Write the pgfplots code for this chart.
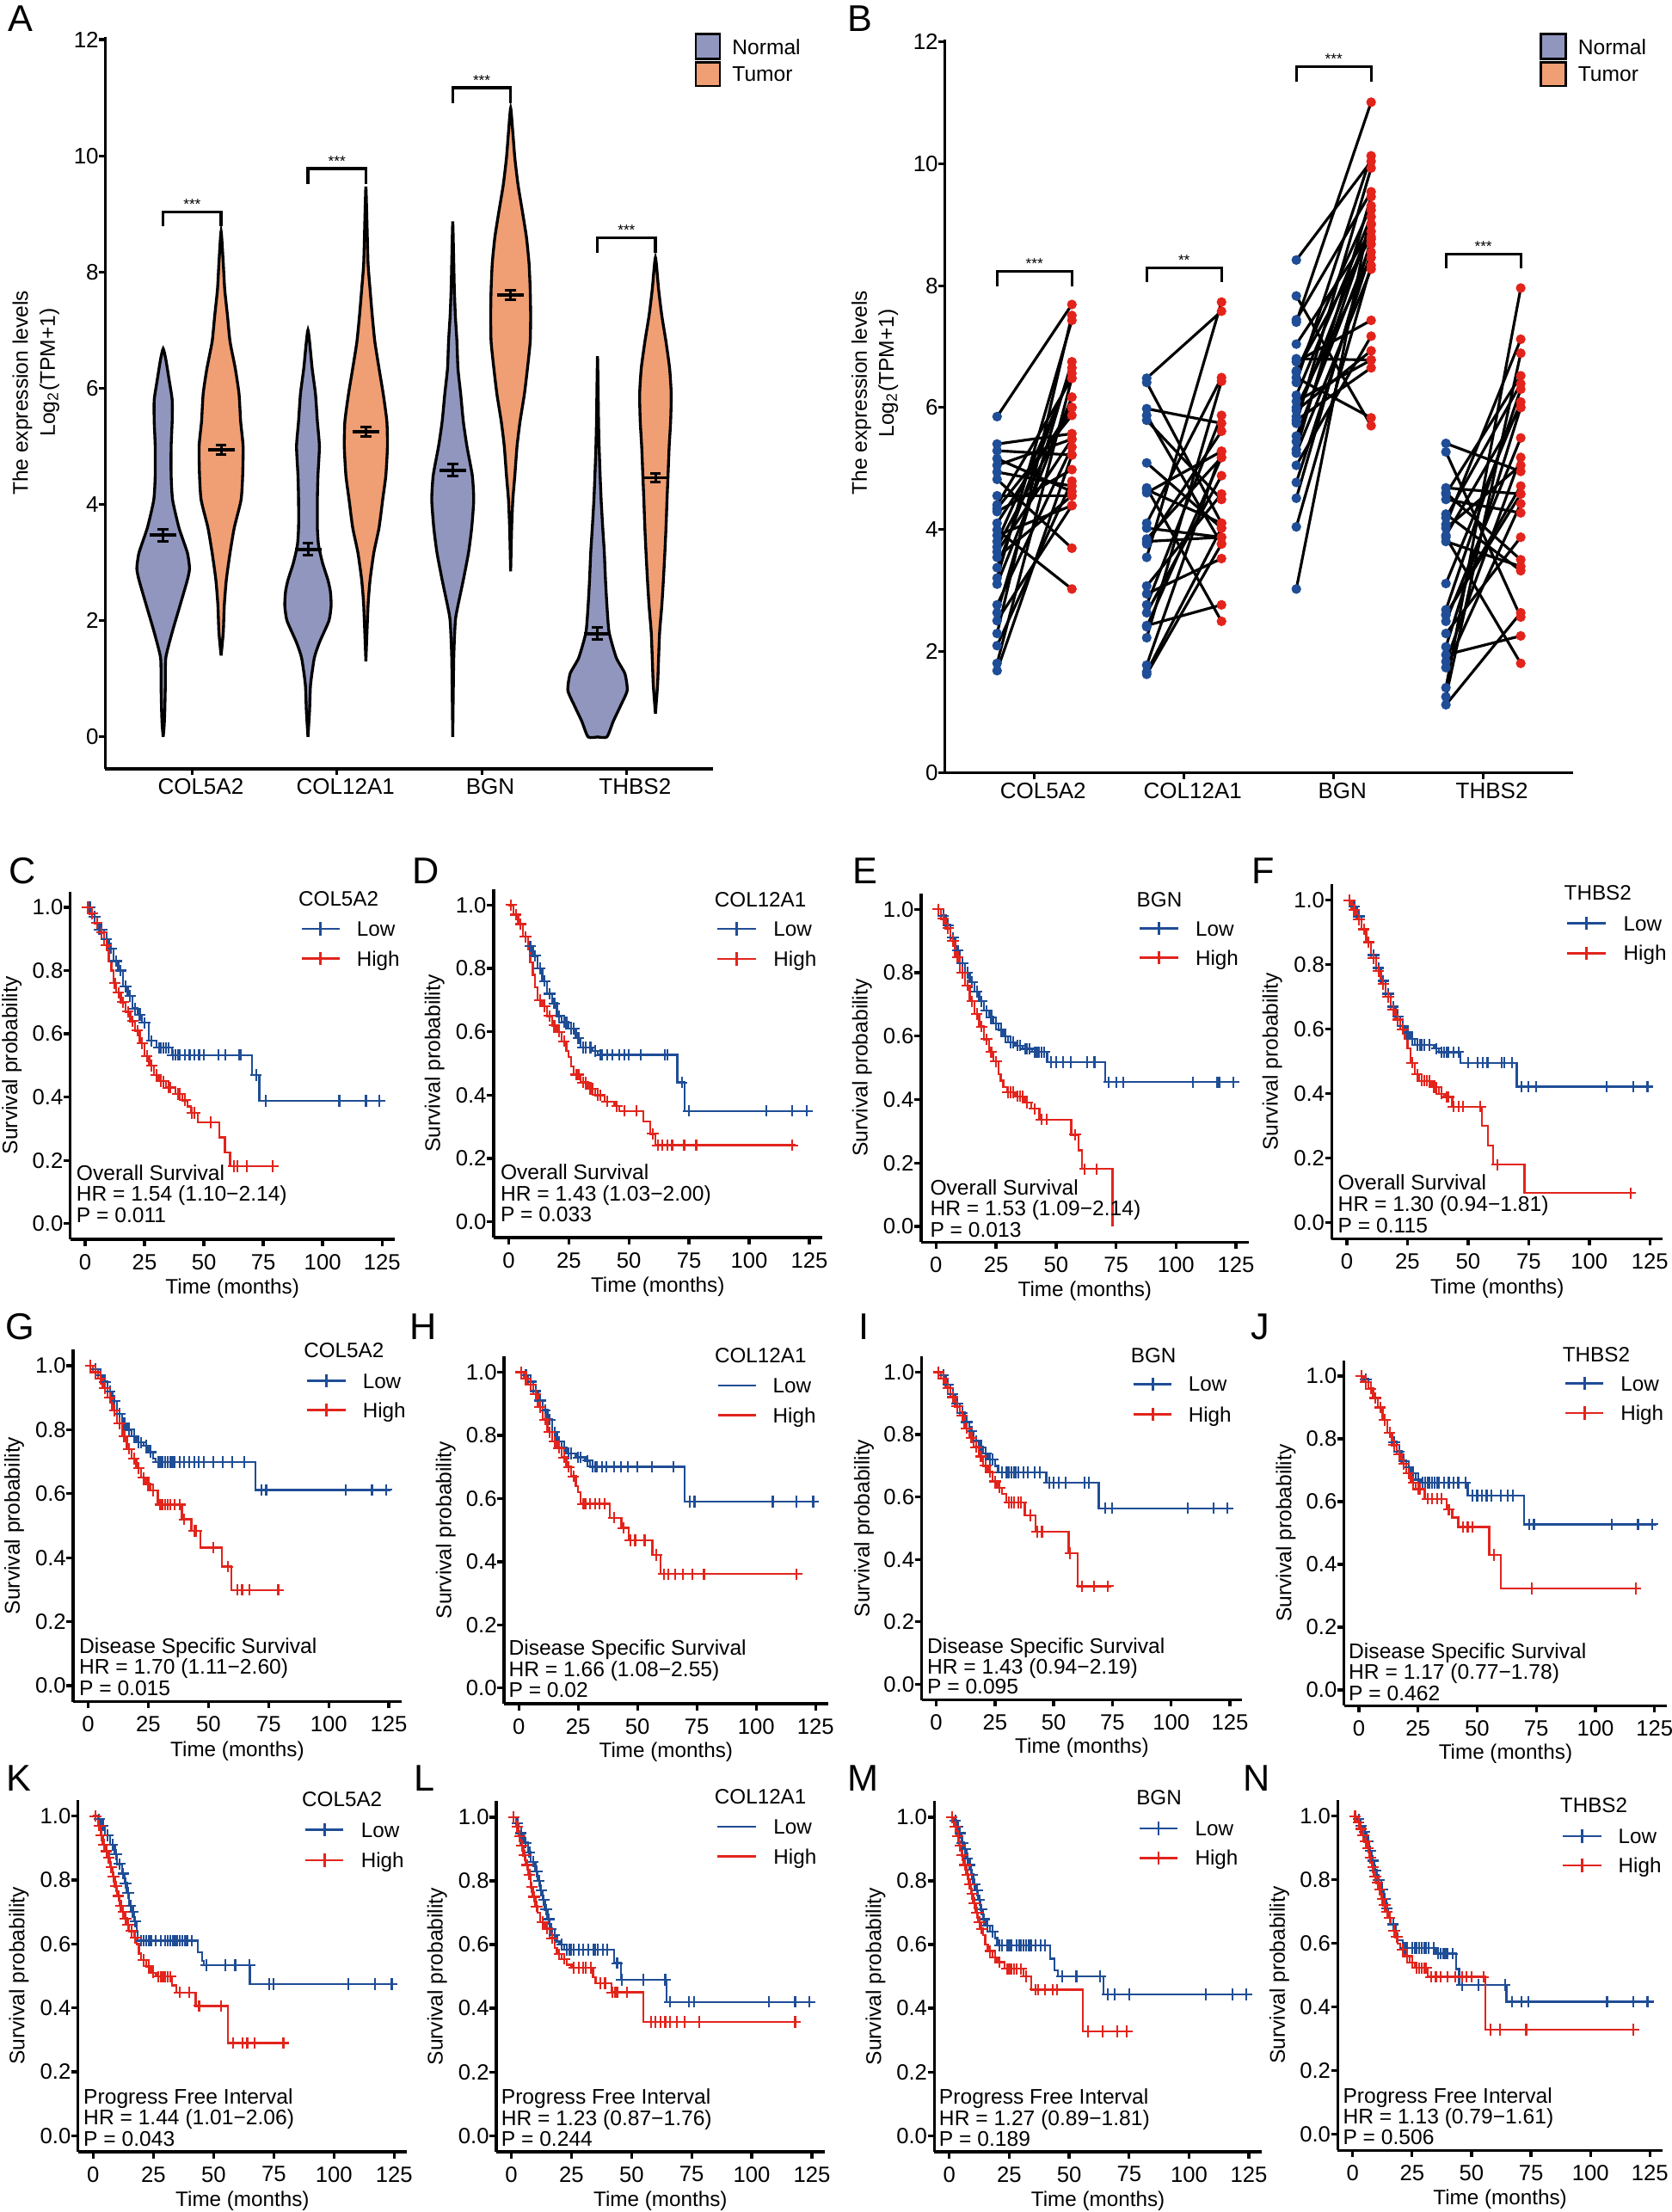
\documentclass[border=0pt]{standalone}
\usepackage{fontspec}
\setmainfont{Liberation Sans}
\usepackage{pgfplots}
\pgfplotsset{compat=1.18}
\usepackage{pgfplotstable}

\definecolor{vnorm}{RGB}{145,150,190}
\definecolor{vtum}{RGB}{240,158,116}
\definecolor{kmblue}{RGB}{31,77,150}
\definecolor{kmred}{RGB}{226,36,28}

\newcommand{\fA}{\fontsize{7.4}{8.5}\selectfont}
\newcommand{\fAl}{\fontsize{7.0}{8.5}\selectfont}
\newcommand{\kmtick}{\fontsize{7.3}{8.5}\selectfont}
\newcommand{\kmlab}{\fontsize{6.9}{8}\selectfont}
\newcommand{\kmann}{\fontsize{7.0}{8}\selectfont}
\newcommand{\fstar}{\fontsize{4.9}{5.5}\selectfont}
\newcommand{\fletter}{\fontsize{12.3}{14}\selectfont}

\tikzset{
 kmtxt/.style={font=\kmlab, inner sep=0pt, text height=4.9pt, text depth=0pt, anchor=west},
 kmnt/.style={font=\kmann, inner sep=0pt, anchor=base west},
 plet/.style={font=\fletter, inner sep=0pt, anchor=base west},
 star/.style={font=\fstar, inner sep=0pt, anchor=base},
}

\pgfplotsset{
 km/.style={scale only axis, anchor=south west,
  xmin=-6.25, xmax=130.25, ymin=-0.05, ymax=1.05,
  axis x line*=bottom, axis y line*=left, axis line style={-, line width=0.95pt},
  tick align=outside, major tick length=0.077cm, major tick style={black, line width=0.95pt},
  xtick={0,25,50,75,100,125}, ytick={0,0.2,0.4,0.6,0.8,1},
  yticklabels={0.0,0.2,0.4,0.6,0.8,1.0},
  tick label style={font=\kmtick},
  yticklabel style={anchor=east, inner sep=0pt, xshift=0cm},
  xticklabel style={anchor=north, inner sep=0pt, yshift=-0.09cm},
  xlabel={Time (months)}, ylabel={Survival probability},
  label style={font=\kmlab},
  xlabel style={at={(axis description cs:0.5,-0.14)}, anchor=center},
  ylabel style={at={(axis description cs:-0.18,0.5)}, anchor=center, font=\fontsize{7.0}{8}\selectfont},
  clip=false, /pgf/number format/assume math mode=true},
 kmlo/.style={kmblue, line width=0.68pt, const plot, forget plot},
 kmhi/.style={kmred, line width=0.68pt, const plot, forget plot},
 kmlom/.style={kmblue, only marks, mark=+, mark size=1.9pt, line width=0.6pt, forget plot},
 kmhim/.style={kmred, only marks, mark=+, mark size=1.9pt, line width=0.6pt, forget plot},
 vn/.style={fill=vnorm, draw=black, line width=0.95pt, smooth, tension=0.35, forget plot},
 vt/.style={fill=vtum, draw=black, line width=0.95pt, smooth, tension=0.35, forget plot},
 brk/.style={black, line width=0.9pt, forget plot},
 exax/.style={scale only axis, anchor=south west, xmin=0.4, xmax=4.6,
  axis x line*=bottom, axis y line*=left, axis line style={-, line width=0.87pt},
  tick align=outside, major tick length=0.07cm, major tick style={black, line width=0.87pt},
  xtick={1,2,3,4}, xticklabels={COL5A2,COL12A1,BGN,THBS2},
  ytick={0,2,4,6,8,10,12}, tick label style={font=\fA},
  yticklabel style={anchor=east, inner sep=0pt, xshift=0cm},
  xticklabel style={anchor=north, inner sep=0pt, yshift=-0.04cm, xshift=0.1cm},
  clip=false, /pgf/number format/assume math mode=true},
}

\newcommand{\kmleg}[6]{%
 \pgfmathsetmacro{\kxe}{#2+16}%
 \pgfmathsetmacro{\kxm}{#2+8}%
 \pgfmathsetmacro{\kxt}{#2+23}%
 \pgfmathsetmacro{\kxh}{#2-1.5}%
 \edef\kmtmp{%
  \noexpand\addplot[kmblue, line width=0.8pt, forget plot] coordinates {(#2,#4) (\kxe,#4)};%
  \noexpand\addplot[kmred, line width=0.8pt, forget plot] coordinates {(#2,#5) (\kxe,#5)};%
  \noexpand\node[kmtxt] at (axis cs:\kxh,#3) {#1};%
  \noexpand\node[kmtxt] at (axis cs:\kxt,#4) {Low};%
  \noexpand\node[kmtxt] at (axis cs:\kxt,#5) {High};%
 }\kmtmp
 \ifnum#6=1
  \edef\kmtmp{%
   \noexpand\addplot[kmblue, only marks, mark=+, mark size=2.2pt, line width=0.8pt, forget plot] coordinates {(\kxm,#4)};%
   \noexpand\addplot[kmred, only marks, mark=+, mark size=2.2pt, line width=0.8pt, forget plot] coordinates {(\kxm,#5)};%
  }\kmtmp
 \fi}

\newcommand{\kmnote}[5]{%
 \pgfmathsetmacro{\kbA}{#2-0.066}%
 \pgfmathsetmacro{\kbB}{#2-0.132}%
 \edef\kmtmp{%
  \noexpand\node[kmnt] at (axis cs:#1,#2) {#3};%
  \noexpand\node[kmnt] at (axis cs:#1,\kbA) {#4};%
  \noexpand\node[kmnt] at (axis cs:#1,\kbB) {#5};%
 }\kmtmp}

\pgfplotstableread{
n t
5.85 7.69
5.40 5.57
5.29 5.22
5.16 4.62
4.94 4.71
4.82 3.69
4.40 6.48
4.34 5.87
4.29 4.98
3.99 3.02
3.80 6.56
3.71 6.00
3.63 5.48
3.54 4.55
3.37 6.65
3.20 7.43
3.10 6.17
2.76 5.35
2.63 6.75
2.50 4.39
2.29 7.51
2.09 4.79
1.80 6.48
1.68 5.22
3.90 4.39
4.10 6.00
5.05 5.48
4.55 4.55
}\pairA
\pgfplotstableread{
n t
6.48 7.58
6.41 4.10
5.98 5.74
5.87 3.76
5.79 4.49
5.09 4.02
4.68 2.49
4.60 5.28
4.10 6.49
4.02 3.87
3.84 5.18
3.76 5.61
3.54 7.73
3.07 4.58
2.94 3.52
2.76 5.87
2.63 4.88
2.42 2.76
2.22 6.43
1.77 5.28
1.66 4.02
1.62 3.76
4.65 4.10
2.40 5.18
3.80 3.87
}\pairB
\pgfplotstableread{
n t
8.42 10.04
7.83 5.70
7.44 9.54
7.40 11.01
7.04 8.89
6.80 6.78
6.58 9.31
6.49 5.83
6.41 10.13
6.20 9.13
6.00 8.46
5.79 6.65
5.74 9.93
5.53 8.68
5.44 9.02
5.31 9.46
5.25 8.27
5.05 7.17
4.77 8.55
4.51 8.76
4.04 8.33
3.02 9.24
5.95 6.93
6.75 7.43
6.10 6.78
5.85 9.00
6.60 8.80
}\pairC
\pgfplotstableread{
n t
5.41 4.95
5.27 2.56
4.68 4.58
4.58 6.52
4.49 4.27
4.25 3.32
4.19 6.39
4.08 7.12
4.02 5.05
3.87 1.80
3.80 3.39
3.11 6.09
2.68 6.30
2.59 4.71
2.49 5.50
2.29 3.87
2.07 6.00
1.94 2.25
1.83 5.18
1.73 4.42
1.40 7.96
1.25 6.89
1.12 2.63
4.60 3.50
2.60 4.58
3.90 6.00
}\pairD

\begin{document}
\begin{tikzpicture}
\path[use as bounding box] (0,0) rectangle (19.44,-25.72);

%%%%%%%%%%%%%%%% Panel A
\begin{axis}[exax, at={(1.224cm,-8.94cm)}, width=7.07cm, height=8.514cm, ymin=-0.55, ymax=12.05]
\addplot[vn] coordinates {(0.8,0) (0.807,0.2) (0.811,0.45) (0.815,0.9) (0.818,1.36) (0.862,1.8) (0.916,2.26) (0.967,2.7) (0.982,2.9) (0.967,3.17) (0.909,3.6) (0.865,4.08) (0.855,4.5) (0.855,5.0) (0.862,5.43) (0.862,5.8) (0.84,6.16) (0.818,6.5) (0.8,6.68) (0.782,6.5) (0.76,6.16) (0.738,5.8) (0.738,5.43) (0.745,5.0) (0.745,4.5) (0.735,4.08) (0.691,3.6) (0.633,3.17) (0.618,2.9) (0.633,2.7) (0.684,2.26) (0.738,1.8) (0.782,1.36) (0.785,0.9) (0.789,0.45) (0.793,0.2) (0.8,0)};
\addplot[vt] coordinates {(1.2,1.4) (1.215,1.8) (1.222,2.26) (1.236,2.7) (1.262,3.17) (1.291,3.6) (1.338,4.08) (1.349,4.5) (1.352,5.0) (1.335,5.43) (1.324,5.9) (1.298,6.34) (1.262,6.8) (1.244,7.25) (1.225,7.7) (1.215,8.15) (1.2,8.7) (1.185,8.15) (1.175,7.7) (1.156,7.25) (1.138,6.8) (1.102,6.34) (1.076,5.9) (1.065,5.43) (1.048,5.0) (1.051,4.5) (1.062,4.08) (1.109,3.6) (1.138,3.17) (1.164,2.7) (1.178,2.26) (1.185,1.8) (1.2,1.4)};
\addplot[vn] coordinates {(1.8,0) (1.811,0.45) (1.818,0.9) (1.844,1.36) (1.88,1.63) (1.945,2.0) (1.96,2.26) (1.955,2.5) (1.938,2.7) (1.9,3.0) (1.873,3.3) (1.865,3.6) (1.865,4.08) (1.869,4.5) (1.879,5.0) (1.865,5.43) (1.852,5.9) (1.829,6.34) (1.8,7.0) (1.771,6.34) (1.748,5.9) (1.735,5.43) (1.721,5.0) (1.731,4.5) (1.735,4.08) (1.735,3.6) (1.727,3.3) (1.7,3.0) (1.662,2.7) (1.645,2.5) (1.64,2.26) (1.655,2.0) (1.72,1.63) (1.756,1.36) (1.782,0.9) (1.789,0.45) (1.8,0)};
\addplot[vt] coordinates {(2.2,1.3) (2.215,2.26) (2.229,2.7) (2.255,3.17) (2.291,3.6) (2.316,4.08) (2.338,4.5) (2.349,5.0) (2.345,5.43) (2.32,5.9) (2.291,6.34) (2.262,6.8) (2.244,7.25) (2.229,7.7) (2.215,8.15) (2.207,8.9) (2.2,9.47) (2.193,8.9) (2.185,8.15) (2.171,7.7) (2.156,7.25) (2.138,6.8) (2.109,6.34) (2.08,5.9) (2.055,5.43) (2.051,5.0) (2.062,4.5) (2.084,4.08) (2.109,3.6) (2.145,3.17) (2.171,2.7) (2.185,2.26) (2.2,1.3)};
\addplot[vn] coordinates {(2.8,0) (2.807,1.36) (2.818,2.0) (2.836,2.26) (2.873,2.7) (2.909,3.17) (2.931,3.6) (2.945,4.08) (2.935,4.5) (2.898,5.0) (2.873,5.43) (2.855,5.9) (2.836,6.34) (2.829,6.8) (2.818,7.25) (2.811,7.7) (2.807,8.15) (2.8,8.87) (2.793,8.15) (2.789,7.7) (2.782,7.25) (2.771,6.8) (2.764,6.34) (2.745,5.9) (2.727,5.43) (2.702,5.0) (2.665,4.5) (2.655,4.08) (2.669,3.6) (2.691,3.17) (2.727,2.7) (2.764,2.26) (2.782,2.0) (2.793,1.36) (2.8,0)};
\addplot[vt] coordinates {(3.2,2.85) (3.207,3.6) (3.215,4.08) (3.229,4.5) (3.244,5.0) (3.265,5.43) (3.295,5.9) (3.316,6.34) (3.335,6.8) (3.338,7.25) (3.335,7.7) (3.327,8.15) (3.309,8.6) (3.28,9.06) (3.251,9.5) (3.229,9.96) (3.215,10.4) (3.2,10.82) (3.185,10.4) (3.171,9.96) (3.149,9.5) (3.12,9.06) (3.091,8.6) (3.073,8.15) (3.065,7.7) (3.062,7.25) (3.065,6.8) (3.084,6.34) (3.105,5.9) (3.135,5.43) (3.156,5.0) (3.171,4.5) (3.185,4.08) (3.193,3.6) (3.2,2.85)};
\addplot[vn] coordinates {(3.8,0) (3.865,0) (3.909,0.27) (3.96,0.54) (4.005,0.8) (3.989,1.09) (3.93,1.36) (3.88,1.8) (3.865,2.26) (3.855,2.7) (3.847,3.17) (3.836,3.6) (3.825,4.08) (3.818,4.5) (3.811,5.0) (3.807,5.43) (3.8,6.55) (3.793,5.43) (3.789,5.0) (3.782,4.5) (3.775,4.08) (3.764,3.6) (3.753,3.17) (3.745,2.7) (3.735,2.26) (3.72,1.8) (3.67,1.36) (3.611,1.09) (3.595,0.8) (3.64,0.54) (3.691,0.27) (3.735,0) (3.8,0)};
\addplot[vt] coordinates {(4.2,0.4) (4.215,0.9) (4.222,1.36) (4.229,1.8) (4.244,2.26) (4.255,2.7) (4.265,3.17) (4.273,3.6) (4.28,4.08) (4.287,4.5) (4.295,5.0) (4.305,5.43) (4.309,5.9) (4.298,6.34) (4.273,6.8) (4.244,7.25) (4.222,7.7) (4.2,8.25) (4.178,7.7) (4.156,7.25) (4.127,6.8) (4.102,6.34) (4.091,5.9) (4.095,5.43) (4.105,5.0) (4.113,4.5) (4.12,4.08) (4.127,3.6) (4.135,3.17) (4.145,2.7) (4.156,2.26) (4.171,1.8) (4.178,1.36) (4.185,0.9) (4.2,0.4)};
% mean +- SE
\addplot[black, only marks, mark=-, mark size=4.4pt, mark options={line width=1.1pt}, forget plot, error bars/.cd, y dir=both, y explicit, error mark=none, error bar style={line width=0.85pt}] coordinates {(0.8,3.47) +- (0,0.10) (1.2,4.94) +- (0,0.08) (1.8,3.23) +- (0,0.10) (2.2,5.25) +- (0,0.08) (2.8,4.59) +- (0,0.10) (3.2,7.61) +- (0,0.08) (3.8,1.78) +- (0,0.10) (4.2,4.46) +- (0,0.08)};
\addplot[black, only marks, mark=-, mark size=1.8pt, mark options={line width=0.85pt}, forget plot] coordinates {(0.8,3.57) (0.8,3.37) (1.2,5.02) (1.2,4.86) (1.8,3.33) (1.8,3.13) (2.2,5.33) (2.2,5.17) (2.8,4.69) (2.8,4.49) (3.2,7.69) (3.2,7.53) (3.8,1.88) (3.8,1.68) (4.2,4.54) (4.2,4.38)};
% brackets
\addplot[brk] coordinates {(0.8,8.79) (0.8,9.03) (1.2,9.03) (1.2,8.79)};
\addplot[brk] coordinates {(1.8,9.51) (1.8,9.78) (2.2,9.78) (2.2,9.51)};
\addplot[brk] coordinates {(2.8,10.91) (2.8,11.17) (3.2,11.17) (3.2,10.91)};
\addplot[brk] coordinates {(3.8,8.33) (3.8,8.59) (4.2,8.59) (4.2,8.33)};
\node[star] at (axis cs:1.0,9.07) {***};
\node[star] at (axis cs:2.0,9.82) {***};
\node[star] at (axis cs:3.0,11.21) {***};
\node[star] at (axis cs:4.0,8.63) {***};
\end{axis}

%%%%%%%%%%%%%%%% Panel B
\begin{axis}[exax, at={(10.984cm,-8.988cm)}, width=7.306cm, height=8.529cm, ymin=0, ymax=12.04]
\addplot[black, line width=0.9pt, quiver={u=0.5, v=\thisrow{t}-\thisrow{n}}, forget plot] table[x expr=0.75, y=n] {\pairA};
\addplot[black, line width=0.9pt, quiver={u=0.5, v=\thisrow{t}-\thisrow{n}}, forget plot] table[x expr=1.75, y=n] {\pairB};
\addplot[black, line width=0.9pt, quiver={u=0.5, v=\thisrow{t}-\thisrow{n}}, forget plot] table[x expr=2.75, y=n] {\pairC};
\addplot[black, line width=0.9pt, quiver={u=0.5, v=\thisrow{t}-\thisrow{n}}, forget plot] table[x expr=3.75, y=n] {\pairD};
\addplot[kmblue, only marks, mark=*, mark size=1.4pt, forget plot] table[x expr=0.75, y=n] {\pairA};
\addplot[kmred, only marks, mark=*, mark size=1.4pt, forget plot] table[x expr=1.25, y=t] {\pairA};
\addplot[kmblue, only marks, mark=*, mark size=1.4pt, forget plot] table[x expr=1.75, y=n] {\pairB};
\addplot[kmred, only marks, mark=*, mark size=1.4pt, forget plot] table[x expr=2.25, y=t] {\pairB};
\addplot[kmblue, only marks, mark=*, mark size=1.4pt, forget plot] table[x expr=2.75, y=n] {\pairC};
\addplot[kmred, only marks, mark=*, mark size=1.4pt, forget plot] table[x expr=3.25, y=t] {\pairC};
\addplot[kmblue, only marks, mark=*, mark size=1.4pt, forget plot] table[x expr=3.75, y=n] {\pairD};
\addplot[kmred, only marks, mark=*, mark size=1.4pt, forget plot] table[x expr=4.25, y=t] {\pairD};
\addplot[brk] coordinates {(0.75,7.99) (0.75,8.23) (1.25,8.23) (1.25,7.99)};
\addplot[brk] coordinates {(1.75,8.06) (1.75,8.29) (2.25,8.29) (2.25,8.06)};
\addplot[brk] coordinates {(2.75,11.34) (2.75,11.59) (3.25,11.59) (3.25,11.34)};
\addplot[brk] coordinates {(3.75,8.29) (3.75,8.52) (4.25,8.52) (4.25,8.29)};
\node[star] at (axis cs:1.0,8.27) {***};
\node[star] at (axis cs:2.0,8.33) {**};
\node[star] at (axis cs:3.0,11.63) {***};
\node[star] at (axis cs:4.0,8.56) {***};
\end{axis}

% A/B y labels and legends
\node[font=\fAl, rotate=90, inner sep=0pt] at (0.26,-4.57) {The expression levels};
\node[font=\fAl, rotate=90, inner sep=0pt] at (0.575,-4.33) {Log\textsubscript{2}(TPM+1)};
\node[font=\fAl, rotate=90, inner sep=0pt] at (10.015,-4.567) {The expression levels};
\node[font=\fAl, rotate=90, inner sep=0pt] at (10.327,-4.34) {Log\textsubscript{2}(TPM+1)};
\draw[fill=vnorm, line width=0.8pt] (8.09,-0.398) rectangle (8.37,-0.685);
\draw[fill=vtum, line width=0.8pt] (8.09,-0.722) rectangle (8.37,-1.00);
\node[font=\fAl, anchor=west, inner sep=0pt] at (8.507,-0.55) {Normal};
\node[font=\fAl, anchor=west, inner sep=0pt] at (8.507,-0.857) {Tumor};
\draw[fill=vnorm, line width=0.8pt] (17.911,-0.398) rectangle (18.207,-0.685);
\draw[fill=vtum, line width=0.8pt] (17.911,-0.722) rectangle (18.207,-1.00);
\node[font=\fAl, anchor=west, inner sep=0pt] at (18.341,-0.55) {Normal};
\node[font=\fAl, anchor=west, inner sep=0pt] at (18.341,-0.857) {Tumor};

%%%%%%%%%%%%%%%% C
\begin{axis}[km, at={(0.817cm,-14.411cm)}, width=3.770cm, height=4.045cm]
\addplot[kmlo] coordinates {(0,1) (3,0.97) (5,0.93) (8,0.90) (10,0.87) (12,0.83) (14,0.80) (16,0.75) (18,0.72) (20,0.68) (22,0.66) (24,0.635) (26.9,0.578) (30,0.556) (36.6,0.533) (70.3,0.47) (73.4,0.388) (125.8,0.388)};
\addplot[kmlom] coordinates {(1,1) (2,1) (4,0.97) (6,0.93) (7,0.93) (9,0.90) (11,0.87) (13,0.83) (15,0.80) (17,0.75) (19,0.72) (21,0.68) (23,0.66) (25,0.635) (28,0.578) (31,0.556) (32,0.556) (33,0.556) (34,0.556) (35,0.556) (37,0.533) (38,0.533) (39,0.533) (40,0.533) (42,0.533) (44,0.533) (46,0.533) (48,0.533) (50,0.533) (56,0.533) (59,0.533) (65,0.533) (65.5,0.533) (72,0.47) (76,0.388) (107,0.388) (118,0.388) (118.5,0.388) (124,0.388)};
\addplot[kmhi] coordinates {(0,1) (2,0.98) (4,0.95) (6,0.92) (8,0.88) (10,0.83) (11,0.80) (12,0.76) (13,0.73) (15,0.70) (17,0.67) (19,0.64) (21,0.61) (23,0.57) (25,0.53) (27,0.50) (29,0.47) (31,0.45) (34,0.43) (38,0.41) (41,0.39) (43,0.37) (44.5,0.35) (47.4,0.32) (56.5,0.273) (58.9,0.225) (61,0.181) (80.6,0.181)};
\addplot[kmhim] coordinates {(1,1) (3,0.98) (5,0.95) (7,0.92) (9,0.88) (12.5,0.76) (14,0.73) (16,0.70) (18,0.67) (20,0.64) (22,0.61) (24,0.57) (26,0.53) (28,0.50) (30,0.47) (32,0.45) (33,0.45) (35,0.43) (36,0.43) (39,0.41) (40,0.41) (42,0.39) (45,0.35) (46,0.35) (53,0.32) (62.5,0.181) (64,0.181) (68,0.181) (79,0.181)};
\kmnote{-3.9}{0.136}{Overall Survival}{HR = 1.54 (1.10−2.14)}{P = 0.011}
\kmleg{COL5A2}{91.1}{1.028}{0.932}{0.838}{1}
\end{axis}

%%%%%%%%%%%%%%%% D
\begin{axis}[km, at={(5.739cm,-14.391cm)}, width=3.817cm, height=4.051cm]
\addplot[kmlo] coordinates {(0,1) (2,0.97) (4,0.94) (6,0.90) (8,0.87) (10,0.84) (12,0.80) (14,0.76) (16,0.72) (18,0.69) (20,0.65) (22,0.63) (25,0.61) (28,0.58) (30,0.55) (35,0.54) (37,0.527) (70.1,0.44) (73.2,0.35) (125.7,0.35)};
\addplot[kmlom] coordinates {(1,1) (3,0.97) (5,0.94) (7,0.90) (9,0.87) (11,0.84) (13,0.80) (15,0.76) (17,0.72) (19,0.69) (21,0.65) (23,0.63) (24,0.63) (26,0.61) (27,0.61) (29,0.58) (31,0.55) (32,0.55) (34,0.55) (36,0.54) (38,0.527) (39,0.527) (41,0.527) (43,0.527) (46,0.527) (48,0.527) (50,0.527) (55,0.527) (65,0.527) (66,0.527) (72,0.44) (75,0.35) (107,0.35) (118,0.35) (124,0.35)};
\addplot[kmhi] coordinates {(0,1) (2,0.97) (4,0.94) (6,0.90) (8,0.86) (9,0.82) (10,0.78) (11,0.74) (12,0.70) (14,0.68) (16,0.65) (18,0.62) (20,0.60) (22,0.57) (24,0.54) (25,0.52) (26,0.49) (27,0.465) (30,0.44) (33,0.42) (36,0.40) (40,0.38) (44,0.365) (46,0.35) (56,0.317) (58.9,0.278) (61,0.242) (119.4,0.242)};
\addplot[kmhim] coordinates {(1,1) (3,0.97) (5,0.94) (7,0.90) (13,0.70) (15,0.68) (17,0.65) (19,0.62) (21,0.60) (23,0.57) (28,0.465) (29,0.465) (31,0.44) (32,0.44) (34,0.42) (35,0.42) (37,0.40) (38,0.40) (41,0.38) (45,0.365) (48,0.35) (53,0.35) (60,0.278) (62,0.242) (64,0.242) (66,0.242) (68,0.242) (73,0.242) (78,0.242) (118,0.242)};
\kmnote{-3.6}{0.133}{Overall Survival}{HR = 1.43 (1.03−2.00)}{P = 0.033}
\kmleg{COL12A1}{86.9}{1.018}{0.925}{0.830}{1}
\end{axis}

%%%%%%%%%%%%%%%% E
\begin{axis}[km, at={(10.709cm,-14.444cm)}, width=3.808cm, height=4.056cm]
\addplot[kmlo] coordinates {(0,1) (2,0.98) (4,0.95) (6,0.91) (8,0.87) (10,0.83) (12,0.80) (14,0.77) (16,0.74) (18,0.71) (20,0.68) (22,0.66) (24,0.64) (26,0.62) (28,0.60) (30,0.58) (33,0.57) (36,0.56) (40,0.55) (46.3,0.518) (70.4,0.455) (125.4,0.455)};
\addplot[kmlom] coordinates {(1,1) (3,0.98) (5,0.95) (7,0.91) (9,0.87) (11,0.83) (13,0.80) (15,0.77) (17,0.74) (19,0.71) (21,0.68) (23,0.66) (25,0.64) (27,0.62) (29,0.60) (31,0.58) (32,0.58) (34,0.57) (35,0.57) (37,0.56) (38,0.56) (39,0.56) (41,0.55) (42,0.55) (43,0.55) (44,0.55) (45,0.55) (48,0.518) (50,0.518) (53,0.518) (56,0.518) (63,0.518) (66,0.518) (72,0.455) (75,0.455) (78,0.455) (107,0.455) (117,0.455) (118,0.455) (124,0.455)};
\addplot[kmhi] coordinates {(0,1) (2,0.97) (4,0.94) (6,0.90) (8,0.85) (10,0.80) (12,0.76) (14,0.71) (16,0.67) (18,0.63) (20,0.59) (22,0.55) (24,0.52) (26,0.48) (27,0.46) (28,0.44) (29.6,0.423) (33,0.41) (37,0.39) (39.7,0.371) (43,0.337) (56.4,0.289) (59.3,0.24) (60.8,0.181) (73.5,0)};
\addplot[kmhim] coordinates {(1,1) (3,0.97) (5,0.94) (7,0.90) (9,0.85) (11,0.80) (13,0.76) (15,0.71) (17,0.67) (19,0.63) (21,0.59) (23,0.55) (25,0.52) (30,0.423) (31,0.423) (32,0.423) (34,0.41) (35,0.41) (36,0.41) (38,0.39) (41,0.371) (44,0.337) (46,0.337) (58,0.289) (62,0.181) (67,0.181)};
\kmnote{-2.7}{0.099}{Overall Survival}{HR = 1.53 (1.09−2.14)}{P = 0.013}
\kmleg{BGN}{84.9}{1.032}{0.939}{0.847}{1}
\end{axis}

%%%%%%%%%%%%%%%% F
\begin{axis}[km, at={(15.484cm,-14.405cm)}, width=3.847cm, height=4.125cm]
\addplot[kmlo] coordinates {(0,1) (2,0.98) (4,0.95) (6,0.91) (8,0.87) (10,0.83) (12,0.79) (14,0.75) (16,0.71) (18,0.67) (20,0.64) (22,0.61) (24,0.59) (26,0.57) (28,0.551) (36,0.54) (38,0.529) (46.9,0.496) (70,0.422) (125.6,0.422)};
\addplot[kmlom] coordinates {(1,1) (3,0.98) (5,0.95) (7,0.91) (9,0.87) (11,0.83) (13,0.79) (15,0.75) (17,0.71) (19,0.67) (21,0.64) (23,0.61) (25,0.59) (27,0.57) (29,0.551) (30,0.551) (31,0.551) (32,0.551) (34,0.551) (37,0.54) (39,0.529) (40,0.529) (41,0.529) (42,0.529) (44,0.529) (46,0.529) (50,0.496) (54,0.496) (56,0.496) (58,0.496) (64,0.496) (65,0.496) (68,0.496) (72,0.422) (75,0.422) (78,0.422) (107,0.422) (118,0.422) (124,0.422)};
\addplot[kmhi] coordinates {(0,1) (2,0.97) (4,0.94) (6,0.91) (8,0.87) (10,0.82) (12,0.78) (14,0.74) (16,0.70) (18,0.66) (20,0.63) (22,0.60) (24,0.57) (25,0.54) (26.3,0.496) (28,0.46) (29.8,0.44) (35,0.42) (38,0.40) (40.2,0.39) (43.4,0.36) (55.8,0.30) (58.2,0.24) (60.3,0.18) (73.3,0.092) (119,0.092)};
\addplot[kmhim] coordinates {(1,1) (3,0.97) (5,0.94) (7,0.91) (9,0.87) (11,0.82) (13,0.78) (15,0.74) (17,0.70) (19,0.66) (21,0.63) (23,0.60) (27,0.496) (29,0.46) (31,0.44) (32,0.44) (33,0.44) (34,0.44) (36,0.42) (37,0.42) (39,0.40) (41,0.39) (42,0.39) (44,0.36) (46,0.36) (48,0.36) (55,0.36) (62,0.18) (117,0.092)};
\kmnote{-3.9}{0.102}{Overall Survival}{HR = 1.30 (0.94−1.81)}{P = 0.115}
\kmleg{THBS2}{90.9}{1.025}{0.928}{0.836}{1}
\end{axis}

%%%%%%%%%%%%%%%% G
\begin{axis}[km, at={(0.851cm,-19.786cm)}, width=3.817cm, height=4.092cm]
\addplot[kmlo] coordinates {(0,1) (2,0.99) (4,0.97) (6,0.95) (8,0.92) (10,0.89) (12,0.85) (14,0.82) (16,0.80) (18,0.78) (20,0.76) (23,0.75) (25,0.73) (27,0.71) (28,0.699) (69.6,0.612) (125.7,0.612)};
\addplot[kmlom] coordinates {(1,1) (3,0.99) (5,0.97) (7,0.95) (9,0.92) (11,0.89) (13,0.85) (15,0.82) (17,0.80) (19,0.78) (21,0.76) (22,0.76) (24,0.75) (26,0.73) (29,0.699) (30,0.699) (31,0.699) (32,0.699) (33,0.699) (34,0.699) (35,0.699) (36,0.699) (38,0.699) (40,0.699) (42,0.699) (44,0.699) (46,0.699) (48,0.699) (52,0.699) (56,0.699) (60,0.699) (65,0.699) (72,0.612) (74,0.612) (107,0.612) (118,0.612) (124,0.612)};
\addplot[kmhi] coordinates {(0,1) (2,0.98) (4,0.96) (6,0.93) (8,0.90) (10,0.86) (12,0.82) (14,0.78) (16,0.74) (18,0.71) (20,0.68) (22,0.65) (24,0.63) (26,0.61) (28.9,0.566) (38.9,0.52) (42.9,0.484) (46.7,0.432) (55.6,0.372) (59.6,0.299) (80,0.299)};
\addplot[kmhim] coordinates {(1,1) (3,0.98) (5,0.96) (7,0.93) (9,0.90) (11,0.86) (13,0.82) (15,0.78) (17,0.74) (19,0.71) (21,0.68) (23,0.65) (25,0.63) (27,0.61) (30,0.566) (31,0.566) (32,0.566) (33,0.566) (34,0.566) (36,0.566) (38,0.566) (40,0.52) (44,0.484) (45,0.484) (52,0.432) (58,0.372) (62,0.299) (64,0.299) (67,0.299) (79,0.299)};
\kmnote{-4.0}{0.102}{Disease Specific Survival}{HR = 1.70 (1.11−2.60)}{P = 0.015}
\kmleg{COL5A2}{90.9}{1.049}{0.953}{0.861}{1}
\end{axis}

%%%%%%%%%%%%%%%% H
\begin{axis}[km, at={(5.860cm,-19.811cm)}, width=3.767cm, height=4.040cm]
\addplot[kmlo] coordinates {(0,1) (2,0.99) (4,0.97) (6,0.94) (8,0.91) (10,0.88) (12,0.85) (14,0.81) (16,0.78) (18,0.76) (20,0.743) (24,0.73) (28,0.72) (30,0.701) (69.8,0.59) (125,0.59)};
\addplot[kmlom] coordinates {(1,1) (3,0.99) (5,0.97) (7,0.94) (9,0.91) (11,0.88) (13,0.85) (15,0.81) (17,0.78) (19,0.76) (21,0.743) (22,0.743) (25,0.73) (26,0.73) (29,0.72) (31,0.701) (32,0.701) (33,0.701) (35,0.701) (37,0.701) (40,0.701) (43,0.701) (46,0.701) (50,0.701) (56,0.701) (65,0.701) (72,0.59) (74,0.59) (107,0.59) (117,0.59) (124,0.59)};
\addplot[kmhi] coordinates {(0,1) (2,0.98) (4,0.96) (6,0.93) (8,0.89) (10,0.85) (12,0.81) (14,0.78) (16,0.76) (18,0.73) (20,0.70) (22,0.67) (24,0.64) (25,0.62) (25.9,0.583) (38.3,0.539) (43.2,0.507) (46.2,0.468) (56.3,0.421) (59.7,0.361) (118,0.361)};
\addplot[kmhim] coordinates {(1,1) (3,0.98) (5,0.96) (7,0.93) (9,0.89) (11,0.85) (13,0.81) (15,0.78) (17,0.76) (19,0.73) (21,0.70) (23,0.67) (27,0.583) (28,0.583) (30,0.583) (32,0.583) (34,0.583) (36,0.583) (40,0.539) (44,0.507) (47,0.468) (49,0.468) (53,0.468) (58,0.421) (61,0.361) (63,0.361) (66,0.361) (69,0.361) (73,0.361) (78,0.361) (117,0.361)};
\kmnote{-4.5}{0.103}{Disease Specific Survival}{HR = 1.66 (1.08−2.55)}{P = 0.02}
\kmleg{COL12A1}{83.8}{1.054}{0.958}{0.863}{0}
\end{axis}

%%%%%%%%%%%%%%%% I
\begin{axis}[km, at={(10.715cm,-19.765cm)}, width=3.728cm, height=3.992cm]
\addplot[kmlo] coordinates {(0,1) (2,0.99) (4,0.96) (6,0.93) (8,0.90) (10,0.87) (12,0.84) (14,0.81) (16,0.78) (18,0.76) (20,0.74) (22,0.72) (25,0.70) (26.3,0.679) (46.8,0.646) (69.2,0.564) (125.7,0.564)};
\addplot[kmlom] coordinates {(1,1) (3,0.99) (5,0.96) (7,0.93) (9,0.90) (11,0.87) (13,0.84) (15,0.81) (17,0.78) (19,0.76) (21,0.74) (23,0.72) (24,0.72) (28,0.679) (30,0.679) (31,0.679) (32,0.679) (33,0.679) (34,0.679) (35,0.679) (37,0.679) (39,0.679) (42,0.679) (44,0.679) (48,0.646) (50,0.646) (52,0.646) (55,0.646) (63,0.646) (65,0.646) (72,0.564) (75,0.564) (107,0.564) (118,0.564) (124,0.564)};
\addplot[kmhi] coordinates {(0,1) (2,0.98) (4,0.95) (6,0.92) (8,0.89) (10,0.86) (12,0.82) (14,0.79) (16,0.76) (18,0.73) (20,0.70) (22,0.68) (24,0.65) (26,0.63) (28,0.61) (29.7,0.582) (37.7,0.541) (42.3,0.489) (56.4,0.42) (60.1,0.314) (74.3,0.314)};
\addplot[kmhim] coordinates {(1,1) (3,0.98) (5,0.95) (7,0.92) (9,0.89) (11,0.86) (13,0.82) (15,0.79) (17,0.76) (19,0.73) (21,0.70) (23,0.68) (25,0.65) (27,0.63) (31,0.582) (32,0.582) (33,0.582) (35,0.582) (36,0.582) (40,0.541) (43,0.489) (45,0.489) (57,0.42) (62,0.314) (67,0.314) (73,0.314)};
\kmnote{-4.1}{0.100}{Disease Specific Survival}{HR = 1.43 (0.94−2.19)}{P = 0.095}
\kmleg{BGN}{84.1}{1.054}{0.962}{0.865}{1}
\end{axis}

%%%%%%%%%%%%%%%% J
\begin{axis}[km, at={(15.627cm,-19.834cm)}, width=3.755cm, height=4.017cm]
\addplot[kmlo] coordinates {(0,1) (2,0.99) (4,0.96) (6,0.93) (8,0.90) (10,0.86) (12,0.82) (14,0.79) (16,0.76) (18,0.73) (20,0.71) (22,0.69) (24,0.67) (26,0.66) (46,0.619) (69.9,0.528) (125.7,0.528)};
\addplot[kmlom] coordinates {(1,1) (3,0.99) (5,0.96) (7,0.93) (9,0.90) (11,0.86) (13,0.82) (15,0.79) (17,0.76) (19,0.73) (21,0.71) (23,0.69) (25,0.67) (27,0.66) (28,0.66) (29,0.66) (30,0.66) (31,0.66) (32,0.66) (33,0.66) (34,0.66) (36,0.66) (38,0.66) (40,0.66) (42,0.66) (45,0.66) (48,0.619) (50,0.619) (52,0.619) (54,0.619) (56,0.619) (60,0.619) (63,0.619) (65,0.619) (72,0.528) (74,0.528) (107,0.528) (118,0.528) (124,0.528)};
\addplot[kmhi] coordinates {(0,1) (2,0.98) (4,0.96) (6,0.93) (8,0.90) (10,0.86) (12,0.82) (14,0.78) (16,0.75) (18,0.72) (20,0.69) (22,0.66) (24,0.64) (27.9,0.609) (37,0.575) (39.5,0.549) (42,0.519) (55.1,0.43) (60.1,0.324) (117.5,0.324)};
\addplot[kmhim] coordinates {(1,1) (3,0.98) (5,0.96) (7,0.93) (9,0.90) (11,0.86) (13,0.82) (15,0.78) (17,0.75) (19,0.72) (21,0.69) (23,0.66) (25,0.64) (26,0.64) (29,0.609) (31,0.609) (33,0.609) (35,0.609) (38,0.575) (44,0.519) (46,0.519) (48,0.519) (57,0.43) (73,0.324) (117,0.324)};
\kmnote{-4.5}{0.0995}{Disease Specific Survival}{HR = 1.17 (0.77−1.78)}{P = 0.462}
\kmleg{THBS2}{87.4}{1.068}{0.976}{0.882}{1}
\end{axis}

%%%%%%%%%%%%%%%% K
\begin{axis}[km, at={(0.908cm,-25.019cm)}, width=3.822cm, height=4.089cm]
\addplot[kmlo] coordinates {(0,1) (2,0.99) (3,0.97) (5,0.94) (7,0.91) (9,0.88) (10,0.85) (12,0.82) (13,0.79) (14,0.76) (15,0.72) (16,0.70) (17,0.67) (18,0.64) (18.5,0.61) (43.5,0.574) (45.2,0.547) (46,0.534) (65.1,0.474) (126.2,0.474)};
\addplot[kmlom] coordinates {(1,1) (2.5,0.99) (4,0.97) (6,0.94) (8,0.91) (9.5,0.88) (11,0.85) (12.5,0.82) (13.5,0.79) (14.5,0.76) (15.5,0.72) (16.5,0.70) (17.5,0.67) (20,0.61) (21,0.61) (22,0.61) (23,0.61) (24,0.61) (26,0.61) (28,0.61) (30,0.61) (31,0.61) (32,0.61) (33,0.61) (34,0.61) (35,0.61) (36,0.61) (37,0.61) (38,0.61) (39,0.61) (41,0.61) (47,0.534) (55,0.534) (59,0.534) (65,0.534) (73,0.474) (75,0.474) (106,0.474) (117,0.474) (124,0.474)};
\addplot[kmhi] coordinates {(0,1) (2,0.97) (3,0.94) (4,0.91) (5,0.89) (6,0.87) (7,0.84) (8,0.81) (9,0.78) (10,0.75) (11,0.72) (12,0.70) (13,0.68) (14,0.66) (15,0.64) (17,0.62) (18,0.60) (19,0.57) (20,0.55) (22,0.53) (24,0.51) (26.2,0.498) (32.7,0.47) (34.5,0.448) (42.6,0.406) (56,0.29) (79.8,0.29)};
\addplot[kmhim] coordinates {(1,1) (2.5,0.97) (3.5,0.94) (4.5,0.91) (5.5,0.89) (6.5,0.87) (7.5,0.84) (8.5,0.81) (9.5,0.78) (10.5,0.75) (11.5,0.72) (12.5,0.70) (13.5,0.68) (14.5,0.66) (16,0.64) (17.5,0.62) (21,0.55) (23,0.53) (25,0.51) (27,0.498) (28,0.498) (29,0.498) (30,0.498) (31,0.498) (32,0.498) (36,0.448) (40,0.448) (44,0.406) (53,0.406) (58,0.29) (62,0.29) (64,0.29) (67,0.29) (79,0.29)};
\kmnote{-4.2}{0.10}{Progress Free Interval}{HR = 1.44 (1.01−2.06)}{P = 0.043}
\kmleg{COL5A2}{88.0}{1.052}{0.957}{0.862}{1}
\end{axis}

%%%%%%%%%%%%%%%% L
\begin{axis}[km, at={(5.770cm,-25.018cm)}, width=3.817cm, height=4.074cm]
\addplot[kmlo] coordinates {(0,1) (2,0.98) (3,0.95) (5,0.92) (7,0.89) (8,0.86) (10,0.83) (11,0.80) (12,0.77) (13,0.74) (14,0.71) (15,0.68) (16,0.65) (17,0.63) (19,0.61) (20,0.60) (22,0.584) (42.7,0.542) (45.6,0.49) (64.5,0.42) (125.7,0.42)};
\addplot[kmlom] coordinates {(1,1) (2.5,0.98) (4,0.95) (6,0.92) (7.5,0.89) (9,0.86) (10.5,0.83) (11.5,0.80) (12.5,0.77) (13.5,0.74) (14.5,0.71) (15.5,0.68) (16.5,0.65) (18,0.63) (21,0.60) (23,0.584) (24,0.584) (25,0.584) (26,0.584) (28,0.584) (30,0.584) (32,0.584) (34,0.584) (35,0.584) (36,0.584) (38,0.584) (40,0.584) (44,0.542) (46,0.49) (55,0.49) (64,0.49) (66,0.42) (74,0.42) (76,0.42) (107,0.42) (118,0.42) (124,0.42)};
\addplot[kmhi] coordinates {(0,1) (2,0.97) (3,0.94) (4,0.91) (5,0.88) (6,0.85) (7,0.82) (8,0.78) (9,0.75) (10,0.72) (11,0.70) (12,0.67) (14,0.65) (16,0.62) (18,0.59) (19,0.57) (21,0.555) (23,0.537) (25,0.527) (34,0.497) (35,0.479) (41.6,0.45) (55,0.357) (119.4,0.357)};
\addplot[kmhim] coordinates {(1,1) (2.5,0.97) (3.5,0.94) (4.5,0.91) (5.5,0.88) (6.5,0.85) (7.5,0.82) (8.5,0.78) (9.5,0.75) (10.5,0.72) (13,0.67) (15,0.65) (17,0.62) (20,0.57) (22,0.555) (26,0.527) (28,0.527) (30,0.527) (31,0.527) (33,0.527) (37,0.479) (39,0.479) (42,0.45) (43,0.45) (44,0.45) (48,0.45) (58,0.357) (60,0.357) (62,0.357) (64,0.357) (66,0.357) (69,0.357) (72,0.357) (78,0.357) (118,0.357)};
\kmnote{-4.4}{0.099}{Progress Free Interval}{HR = 1.23 (0.87−1.76)}{P = 0.244}
\kmleg{COL12A1}{85.8}{1.065}{0.970}{0.877}{0}
\end{axis}

%%%%%%%%%%%%%%%% M
\begin{axis}[km, at={(10.864cm,-25.018cm)}, width=3.803cm, height=4.074cm]
\addplot[kmlo] coordinates {(0,1) (2,0.99) (3,0.97) (4,0.95) (5,0.92) (6,0.90) (7,0.87) (8,0.85) (9,0.82) (10,0.79) (11,0.77) (12,0.74) (13,0.71) (14,0.68) (15,0.66) (17,0.64) (19,0.62) (20,0.598) (42,0.556) (43.8,0.519) (45.3,0.50) (64.3,0.444) (125,0.444)};
\addplot[kmlom] coordinates {(1,1) (2.5,0.99) (3.5,0.97) (4.5,0.95) (5.5,0.92) (6.5,0.90) (7.5,0.87) (8.5,0.85) (9.5,0.82) (10.5,0.79) (11.5,0.77) (12.5,0.74) (13.5,0.71) (14.5,0.68) (16,0.66) (18,0.64) (21,0.598) (22,0.598) (24,0.598) (25,0.598) (26,0.598) (28,0.598) (29,0.598) (30,0.598) (31,0.598) (32,0.598) (33,0.598) (34,0.598) (36,0.598) (38,0.598) (40,0.598) (47,0.50) (53,0.50) (63,0.50) (66,0.444) (69,0.444) (75,0.444) (107,0.444) (118,0.444) (124,0.444)};
\addplot[kmhi] coordinates {(0,1) (2,0.97) (3,0.94) (4,0.91) (5,0.88) (6,0.85) (7,0.82) (8,0.79) (9,0.76) (10,0.73) (11,0.70) (12,0.67) (13,0.65) (14,0.63) (15,0.60) (16,0.58) (18,0.56) (20,0.545) (23,0.524) (31,0.50) (34.2,0.459) (55.8,0.328) (74.8,0.328)};
\addplot[kmhim] coordinates {(1,1) (2.5,0.97) (3.5,0.94) (4.5,0.91) (5.5,0.88) (6.5,0.85) (7.5,0.82) (8.5,0.79) (9.5,0.76) (10.5,0.73) (11.5,0.70) (12.5,0.67) (13.5,0.65) (17,0.58) (19,0.56) (21,0.545) (24,0.524) (25,0.524) (26,0.524) (27,0.524) (28,0.524) (30,0.524) (32,0.50) (36,0.459) (37,0.459) (40,0.459) (43,0.459) (45,0.459) (58,0.328) (64,0.328) (70,0.328) (74,0.328)};
\kmnote{-4.5}{0.099}{Progress Free Interval}{HR = 1.27 (0.89−1.81)}{P = 0.189}
\kmleg{BGN}{79.3}{1.061}{0.965}{0.872}{1}
\end{axis}

%%%%%%%%%%%%%%%% N
\begin{axis}[km, at={(15.554cm,-25.002cm)}, width=3.774cm, height=4.07cm]
\addplot[kmlo] coordinates {(0,1) (2,0.99) (3,0.97) (4,0.95) (6,0.92) (7,0.89) (8,0.86) (9,0.83) (10,0.80) (12,0.77) (13,0.74) (14,0.71) (15,0.68) (16,0.66) (18,0.63) (19,0.61) (21,0.586) (35,0.568) (43.6,0.52) (44.8,0.47) (64.7,0.417) (126.8,0.417)};
\addplot[kmlom] coordinates {(1,1) (2.5,0.99) (3.5,0.97) (5,0.95) (6.5,0.92) (7.5,0.89) (8.5,0.86) (9.5,0.83) (11,0.80) (12.5,0.77) (13.5,0.74) (14.5,0.71) (15.5,0.68) (17,0.66) (22,0.586) (23,0.586) (25,0.586) (26,0.586) (27,0.586) (28,0.586) (29,0.586) (30,0.586) (31,0.586) (32,0.586) (34,0.586) (36,0.568) (37,0.568) (38,0.568) (39,0.568) (40,0.568) (42,0.568) (46,0.47) (53,0.47) (64,0.47) (67,0.417) (71,0.417) (74,0.417) (107,0.417) (118,0.417) (124,0.417)};
\addplot[kmhi] coordinates {(0,1) (2,0.98) (3,0.96) (4,0.94) (5,0.92) (6,0.90) (7,0.87) (8,0.84) (9,0.81) (10,0.79) (11,0.77) (12,0.74) (13,0.72) (14,0.70) (15,0.68) (16,0.66) (17,0.64) (18,0.62) (19,0.60) (20,0.58) (22,0.56) (24,0.54) (26.2,0.523) (31.6,0.495) (55.7,0.329) (120.2,0.329)};
\addplot[kmhim] coordinates {(1,1) (2.5,0.98) (3.5,0.96) (4.5,0.94) (5.5,0.92) (6.5,0.90) (7.5,0.87) (8.5,0.84) (9.5,0.81) (10.5,0.79) (11.5,0.77) (12.5,0.74) (13.5,0.72) (14.5,0.70) (15.5,0.68) (17.5,0.64) (18.5,0.62) (21,0.58) (23,0.56) (25,0.54) (27,0.523) (28,0.523) (29,0.523) (30,0.523) (31,0.523) (33,0.495) (35,0.495) (37,0.495) (40,0.495) (43,0.495) (46,0.495) (48,0.495) (50,0.495) (55,0.495) (58,0.329) (62,0.329) (73,0.329) (118,0.329)};
\kmnote{-4.3}{0.099}{Progress Free Interval}{HR = 1.13 (0.79−1.61)}{P = 0.506}
\kmleg{THBS2}{88.5}{1.034}{0.937}{0.845}{1}
\end{axis}

% panel letters
\node[plet] at (0.09,-0.37) {A};
\node[plet] at (9.85,-0.37) {B};
\node[plet] at (0.10,-10.27) {C};
\node[plet] at (4.79,-10.27) {D};
\node[plet] at (9.906,-10.27) {E};
\node[plet] at (14.55,-10.27) {F};
\node[plet] at (0.06,-15.57) {G};
\node[plet] at (4.757,-15.57) {H};
\node[plet] at (9.98,-15.57) {I};
\node[plet] at (14.538,-15.57) {J};
\node[plet] at (0.067,-20.82) {K};
\node[plet] at (4.807,-20.82) {L};
\node[plet] at (9.844,-20.82) {M};
\node[plet] at (14.45,-20.82) {N};
\end{tikzpicture}
\end{document}
